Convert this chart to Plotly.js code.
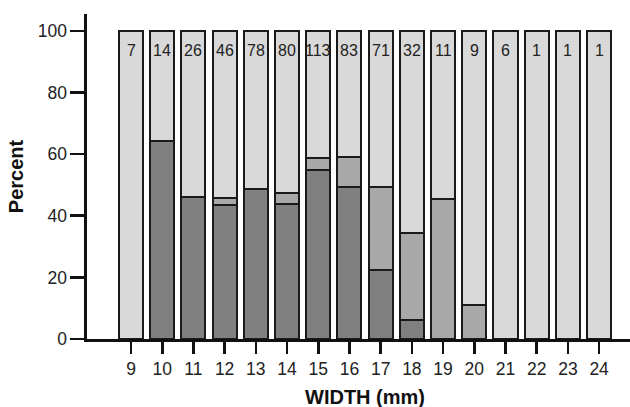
<!DOCTYPE html>
<html>
<head>
<meta charset="utf-8">
<script src="https://cdn.plot.ly/plotly-3.0.1.min.js"></script>
<style>
  html, body { margin: 0; padding: 0; background: #ffffff; }
  #chart { width: 630px; height: 407px; }
</style>
</head>
<body>
<div id="chart"></div>
<script>
// Width classes (mm)
const widths = [9, 10, 11, 12, 13, 14, 15, 16, 17, 18, 19, 20, 21, 22, 23, 24];
// Sample size per width class (printed at the top of each bar)
const counts = [7, 14, 26, 46, 78, 80, 113, 83, 71, 32, 11, 9, 6, 1, 1, 1];
// Percent in each category (dark = bottom, medium = middle, light = top)
const darkPct   = [0, 64.3, 46.2, 43.5, 48.7, 43.8, 54.9, 49.4, 22.5, 6.2, 0, 0, 0, 0, 0, 0];
const mediumPct = [0, 0, 0, 2.2, 0, 3.7, 3.9, 9.6, 26.8, 28.1, 45.5, 11.1, 0, 0, 0, 0];
const lightPct  = [100, 35.7, 53.8, 54.3, 51.3, 52.5, 41.2, 41.0, 50.7, 65.7, 54.5, 88.9, 100, 100, 100, 100];
const tickLabels = widths.map(String);

const FONT = '"Liberation Sans", Arial, Helvetica, sans-serif';
const outline = { color: '#1a1a1a', width: 2 };

const traces = [
  { name: 'dark', x: widths, y: darkPct, type: 'bar',
    marker: { color: '#808080', line: outline }, hoverinfo: 'skip' },
  { name: 'medium', x: widths, y: mediumPct, type: 'bar',
    marker: { color: '#a8a8a8', line: outline }, hoverinfo: 'skip' },
  { name: 'light', x: widths, y: lightPct, type: 'bar',
    marker: { color: '#d9d9d9', line: outline }, hoverinfo: 'skip' }
];

const annotations = widths.map((w, i) => ({
  x: w, y: 93.6, xref: 'x', yref: 'y',
  text: String(counts[i]), showarrow: false,
  font: { family: FONT, size: 16, color: '#222222' },
  xanchor: 'center', yanchor: 'middle'
}));
annotations.push({
  x: 16.5, xref: 'x', y: 0, yref: 'paper',
  yanchor: 'top', yshift: -45,
  text: '<b>WIDTH (mm)</b>', showarrow: false,
  font: { family: FONT, size: 20, color: '#111111' }
});

const layout = {
  width: 630, height: 407,
  margin: { l: 87, r: 0, t: 14, b: 68 },
  paper_bgcolor: '#ffffff', plot_bgcolor: '#ffffff',
  barmode: 'stack', bargap: 0.23,
  showlegend: false,
  font: { family: FONT, color: '#222222' },
  xaxis: {
    range: [7.59, 24.99],
    tickmode: 'array', tickvals: widths, ticktext: tickLabels,
    showgrid: false, zeroline: false,
    showline: true, linecolor: '#111111', linewidth: 2.6,
    ticks: 'outside', ticklen: 12, tickwidth: 2.6, tickcolor: '#111111',
    tickfont: { family: FONT, size: 17.5, color: '#222222' },
    fixedrange: true
  },
  yaxis: {
    range: [0, 105.5],
    tickmode: 'array', tickvals: [0, 20, 40, 60, 80, 100],
    showgrid: false, zeroline: false,
    showline: true, linecolor: '#111111', linewidth: 2.6,
    ticks: 'outside', ticklen: 14, tickwidth: 2.6, tickcolor: '#111111',
    tickfont: { family: FONT, size: 17.5, color: '#222222' },
    title: { text: '<b>Percent</b>', font: { family: FONT, size: 20, color: '#111111' }, standoff: 9 },
    fixedrange: true
  },
  annotations: annotations
};

Plotly.newPlot('chart', traces, layout, { displayModeBar: false, staticPlot: true });
</script>
</body>
</html>
